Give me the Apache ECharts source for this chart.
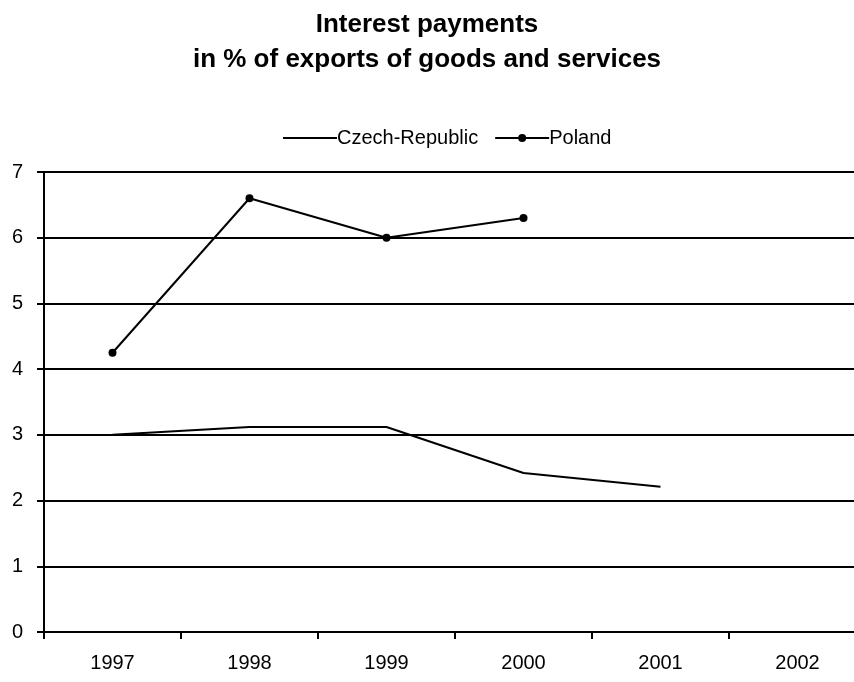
<!DOCTYPE html>
<html>
<head>
<meta charset="utf-8">
<script src="https://cdn.jsdelivr.net/npm/echarts@6/dist/echarts.min.js"></script>
<style>
	html, body { margin: 0; padding: 0; background: #fff; }
	#chart { width: 854px; height: 682px; }
</style>
</head>
<body>
<div id="chart"></div>
<script>
var years = ['1997', '1998', '1999', '2000', '2001', '2002'];
var czech = [3.0, 3.12, 3.12, 2.42, 2.21, null];
var poland = [4.25, 6.6, 6.0, 6.3, null, null];

// interest payments chart
var myChart = echarts.init(document.getElementById('chart'));
var font = 'Liberation Sans, Arial, sans-serif';
var option = {
	animation: false,
	title: {
		text: 'Interest payments\nin % of exports of goods and services',
		left: 'center',
		top: 2,
		textStyle: {
			fontFamily: font,
			fontSize: 26,
			fontWeight: 'bold',
			color: '#000',
			lineHeight: 35
		}
	},
	legend: {
		top: 123,
		left: 278,
		itemWidth: 54,
		itemHeight: 10,
		itemGap: 16,
		textStyle: { fontFamily: font, fontSize: 20, color: '#000', padding: [0, 0, 0, -5] },
		data: [
			// czech has no markers, so only a line in the legend
			{ name: 'Czech-Republic', icon: 'path://M0,0h54v2h-54z' },
			{ name: 'Poland' }
		]
	},
	grid: {
		left: 44,
		width: 822,
		top: 172,
		bottom: 50,
		outerBoundsMode: 'none'
	},
	xAxis: {
		type: 'category',
		data: years,
		boundaryGap: true,
		axisLine: { lineStyle: { color: '#000', width: 2 } },
		axisTick: { show: true, length: 7, interval: 0, lineStyle: { color: '#000', width: 2 } },
		axisLabel: { fontFamily: font, fontSize: 20, color: '#000', margin: 21 }
	},
	yAxis: {
		type: 'value',
		min: 0,
		max: 7,
		interval: 1,
		axisLine: { show: true, lineStyle: { color: '#000', width: 2 } },
		axisTick: { show: true, length: 7, lineStyle: { color: '#000', width: 2 } },
		axisLabel: { fontFamily: font, fontSize: 20, color: '#000', margin: 21 },
		splitLine: { show: true, lineStyle: { color: '#000', width: 2 } }
	},
	series: [{
		name: 'Czech-Republic',
		type: 'line',
		data: czech,
		symbol: 'none',
		lineStyle: { color: '#000', width: 2 },
		itemStyle: { color: '#000' }
	}, {
		name: 'Poland',
		type: 'line',
		data: poland,
		symbol: 'circle',
		symbolSize: 8,
		lineStyle: { color: '#000', width: 2 },
		itemStyle: { color: '#000' }
	}]
};
myChart.setOption(option);
</script>
</body>
</html>
